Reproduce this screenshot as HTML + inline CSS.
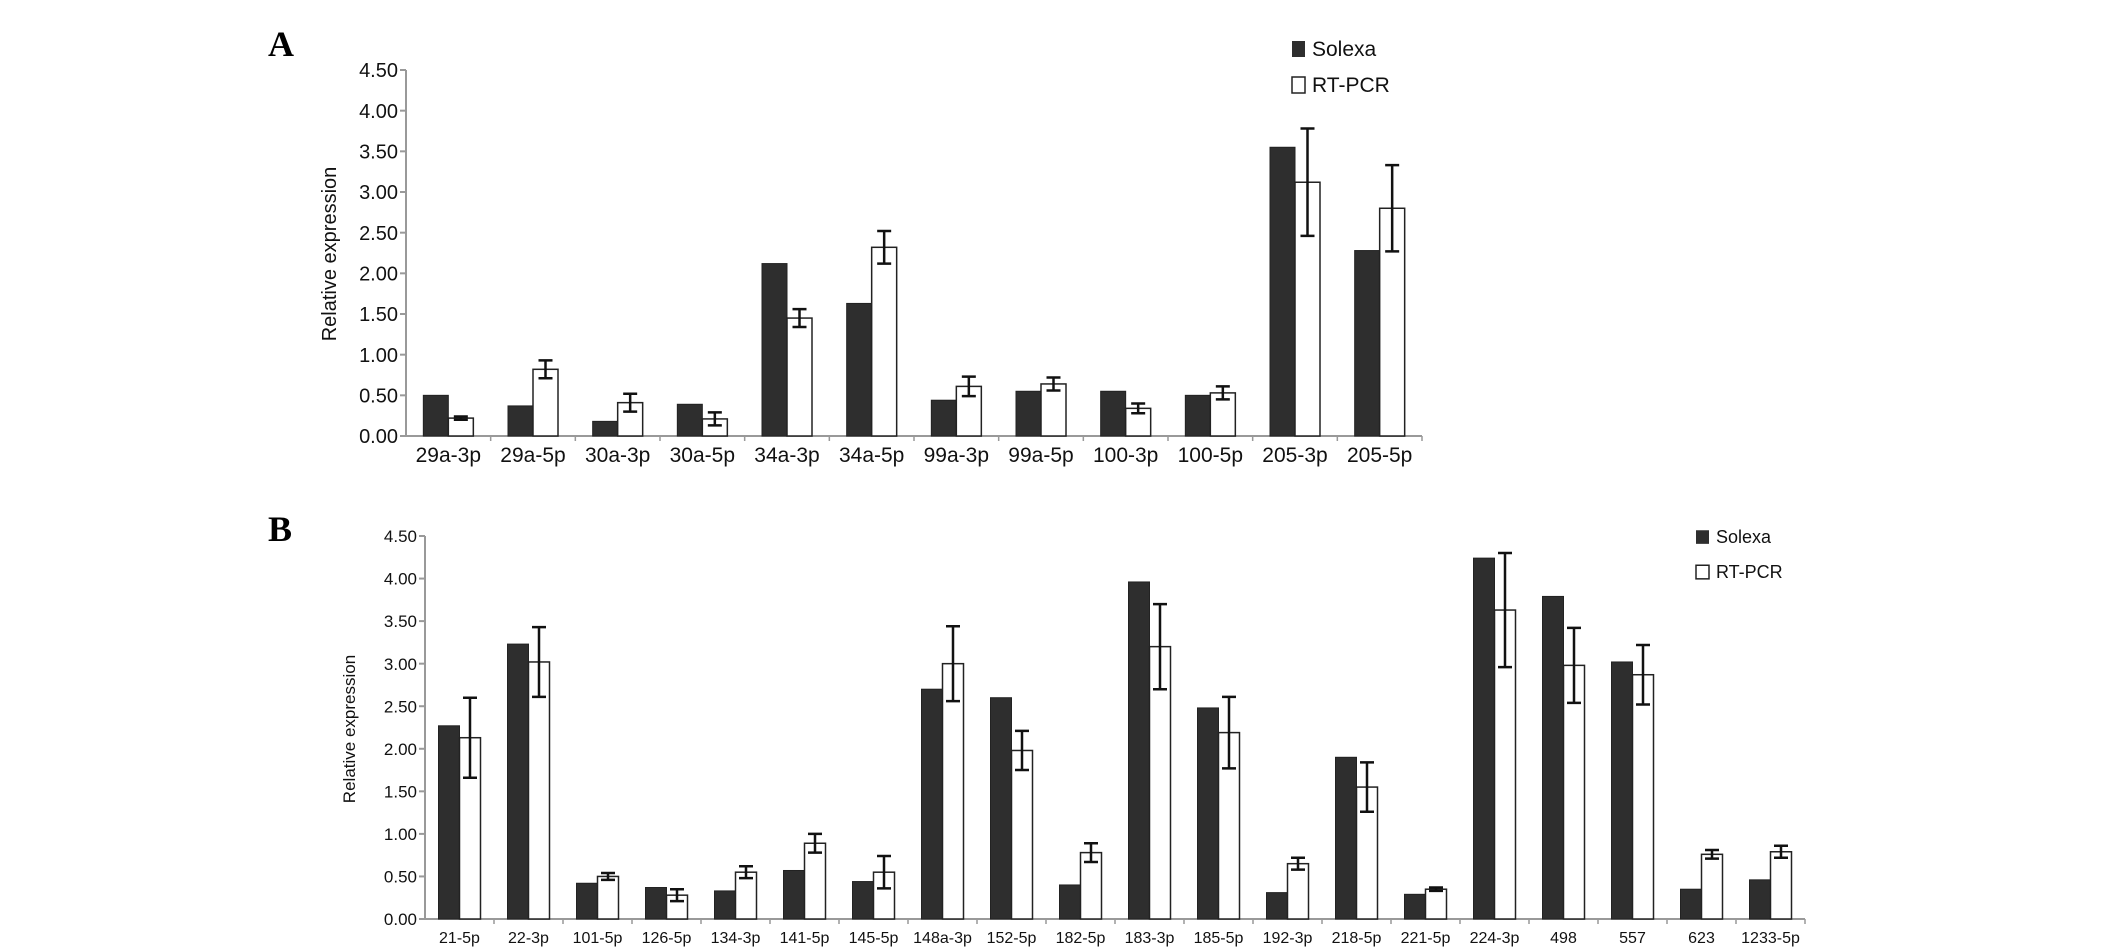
<!DOCTYPE html>
<html><head><meta charset="utf-8"><style>
html,body{margin:0;padding:0;background:#fff;}
svg{display:block;font-family:"Liberation Sans",Arial,sans-serif;}
</style></head><body>
<svg id="fig" width="2126" height="952" viewBox="0 0 2126 952">
<text x="268" y="56" font-family="Liberation Serif,serif" font-weight="bold" font-size="36">A</text>
<text x="268" y="541" font-family="Liberation Serif,serif" font-weight="bold" font-size="36">B</text>
<g id="chartA"></g>
<g id="chartB"></g>
</svg>
<script>
const catsA = ["29a-3p","29a-5p","30a-3p","30a-5p","34a-3p","34a-5p","99a-3p","99a-5p","100-3p","100-5p","205-3p","205-5p"];
const solexaA = [0.50,0.37,0.18,0.39,2.12,1.63,0.44,0.55,0.55,0.50,3.55,2.28];
const rtA = [0.22,0.82,0.41,0.21,1.45,2.32,0.61,0.64,0.34,0.53,3.12,2.80];
const errA = [0.02,0.11,0.11,0.08,0.11,0.20,0.12,0.08,0.06,0.08,0.66,0.53];
const catsB = ["21-5p","22-3p","101-5p","126-5p","134-3p","141-5p","145-5p","148a-3p","152-5p","182-5p","183-3p","185-5p","192-3p","218-5p","221-5p","224-3p","498","557","623","1233-5p"];
const solexaB = [2.27,3.23,0.42,0.37,0.33,0.57,0.44,2.70,2.60,0.40,3.96,2.48,0.31,1.90,0.29,4.24,3.79,3.02,0.35,0.46];
const rtB = [2.13,3.02,0.50,0.28,0.55,0.89,0.55,3.00,1.98,0.78,3.20,2.19,0.65,1.55,0.35,3.63,2.98,2.87,0.76,0.79];
const errB = [0.47,0.41,0.04,0.07,0.07,0.11,0.19,0.44,0.23,0.11,0.50,0.42,0.07,0.29,0.02,0.67,0.44,0.35,0.05,0.07];
const yTicks = ["0.00","0.50","1.00","1.50","2.00","2.50","3.00","3.50","4.00","4.50"];
const NS="http://www.w3.org/2000/svg";
function mk(p,t,a){const e=document.createElementNS(NS,t);for(const k in a)e.setAttribute(k,a[k]);p.appendChild(e);return e;}
function draw(g,o){
  const y=v=>o.y0-(v/4.5)*(o.y0-o.y45);
  const gw=(o.x1-o.x0)/o.cats.length;
  const xa=mk(g,'line',{x1:o.x0,x2:o.x1,y1:o.y0,y2:o.y0,stroke:'#999','stroke-width':2});
  
  
  const ya=mk(g,'line',{x1:o.x0,x2:o.x0,y1:o.y0,y2:o.y45,stroke:'#999','stroke-width':2});
  
  
  yTicks.forEach(t=>{const v=parseFloat(t);
    mk(g,'line',{x1:o.x0-6,x2:o.x0,y1:y(v),y2:y(v),stroke:'#999','stroke-width':2});
    const tx=mk(g,'text',{x:o.x0-8,y:y(v)+o.fs*0.36,'text-anchor':'end','font-size':o.fs,fill:'#111'});
    tx.textContent=t;
    
    
  });
  o.cats.forEach((c,i)=>{
    const gx=o.x0+i*gw, cx=gx+gw/2;
    mk(g,'line',{x1:gx+gw,x2:gx+gw,y1:o.y0,y2:o.y0+5,stroke:'#999','stroke-width':1.5});
    const b1=mk(g,'rect',{x:cx-o.bw,y:y(o.s[i]),width:o.bw,height:o.y0-y(o.s[i]),fill:'#2e2e2e',stroke:'#222','stroke-width':1});
    
    
    const b2=mk(g,'rect',{x:cx,y:y(o.r[i]),width:o.bw,height:o.y0-y(o.r[i]),fill:'#fff',stroke:'#222','stroke-width':1.5});
    
    
    const ex=cx+o.bw/2, hi=y(o.r[i]+o.e[i]), lo=y(o.r[i]-o.e[i]);
    const eb=mk(g,'path',{d:`M${ex},${hi}V${lo}M${ex-7},${hi}H${ex+7}M${ex-7},${lo}H${ex+7}`,stroke:'#111','stroke-width':2.5,fill:'none'});
    
    
    const lb=mk(g,'text',{x:cx,y:o.y0+o.ly,'text-anchor':'middle','font-size':o.lfs,fill:'#111'});
    lb.textContent=c;
    
    
  });
  const tt=mk(g,'text',{x:o.tx,y:o.ty,'text-anchor':'middle','font-size':o.fs,fill:'#111',transform:`rotate(-90 ${o.tx} ${o.ty})`});
  tt.textContent='Relative expression';
  
  
  const l1=mk(g,'rect',{x:o.lx,y:o.ly1-o.fs*0.75,width:13,height:o.fs*0.8,fill:'#2e2e2e'});
  
  
  const t1=mk(g,'text',{x:o.lx+20,y:o.ly1,'font-size':o.fs+1,fill:'#111'});t1.textContent='Solexa';
  
  
  const l2=mk(g,'rect',{x:o.lx,y:o.ly2-o.fs*0.75,width:13,height:o.fs*0.8,fill:'#fff',stroke:'#222','stroke-width':1.5});
  
  
  const t2=mk(g,'text',{x:o.lx+20,y:o.ly2,'font-size':o.fs+1,fill:'#111'});t2.textContent='RT-PCR';
  
  
}
draw(document.getElementById('chartA'),{cats:catsA,s:solexaA,r:rtA,e:errA,x0:406,x1:1422,y0:436,y45:70,bw:25,fs:20,lfs:21,ly:26,tx:336,ty:254,lx:1292,ly1:56,ly2:92});
draw(document.getElementById('chartB'),{cats:catsB,s:solexaB,r:rtB,e:errB,x0:425,x1:1805,y0:919,y45:536,bw:21,fs:17,lfs:16,ly:24,tx:355,ty:729,lx:1696,ly1:543,ly2:578});
</script>
</body></html>
